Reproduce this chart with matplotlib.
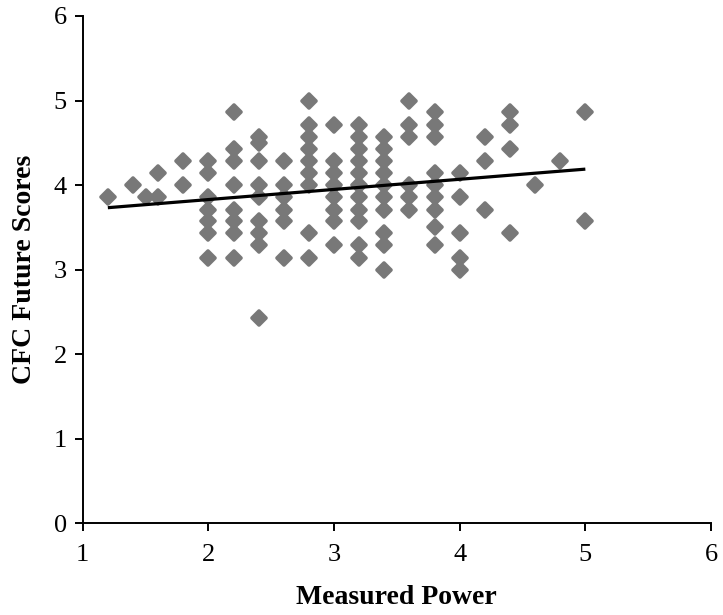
import matplotlib
matplotlib.use('Agg')
import matplotlib.pyplot as plt
from matplotlib.markers import MarkerStyle
import numpy as np

# measured power (x) and the CFC future scores seen in each column
power = [1.2, 1.4, 1.5, 1.6, 1.8, 2.0, 2.2, 2.4, 2.6, 2.8, 3.0,
         3.2, 3.4, 3.6, 3.8, 4.0, 4.2, 4.4, 4.6, 4.8, 5.0]
scores = [
    [3.86],
    [4.0],
    [3.86],
    [4.14, 3.86],
    [4.29, 4.0],
    [4.29, 4.14, 3.86, 3.71, 3.57, 3.43, 3.14],
    [4.86, 4.43, 4.29, 4.0, 3.71, 3.57, 3.43, 3.14],
    [4.57, 4.5, 4.29, 4.0, 3.86, 3.57, 3.43, 3.29, 2.43],
    [4.29, 4.0, 3.86, 3.71, 3.57, 3.14],
    [5.0, 4.71, 4.57, 4.43, 4.29, 4.14, 4.0, 3.43, 3.14],
    [4.71, 4.29, 4.14, 4.0, 3.86, 3.71, 3.57, 3.29],
    [4.71, 4.57, 4.43, 4.29, 4.14, 4.0, 3.86, 3.71, 3.57, 3.29, 3.14],
    [4.57, 4.43, 4.29, 4.14, 4.0, 3.86, 3.71, 3.43, 3.29, 3.0],
    [5.0, 4.71, 4.57, 4.0, 3.86, 3.71],
    [4.86, 4.71, 4.57, 4.14, 4.0, 3.86, 3.71, 3.5, 3.29],
    [4.14, 3.86, 3.43, 3.14, 3.0],
    [4.57, 4.29, 3.71],
    [4.86, 4.71, 4.43, 3.43],
    [4.0],
    [4.29],
    [4.86, 3.57],
]

# linear trend line
trend_slope = 0.12
trend_intercept = 3.589
trend_range = [1.2, 5.0]

xticks = [1, 2, 3, 4, 5, 6]
yticks = [0, 1, 2, 3, 4, 5, 6]

xs = []
ys = []
for p, col in zip(power, scores):
    for s in col:
        xs.append(p)
        ys.append(s)

plt.rcParams['font.family'] = ['Liberation Serif', 'DejaVu Serif']

fig = plt.figure(figsize=(7.23, 6.15), dpi=100)
ax = fig.add_axes([0.1144, 0.149, 0.869, 0.825])

# rounded diamonds, like the blurry excel markers
dmd = MarkerStyle('D', joinstyle='round')
ax.plot(xs, ys, linestyle='none', marker=dmd, markersize=6.8,
        color='#787878', markeredgecolor='#787878', markeredgewidth=2.6,
        zorder=2)

tx = np.array(trend_range)
ax.plot(tx, trend_intercept + trend_slope * tx, color='black', linewidth=2.3,
        solid_capstyle='butt', zorder=3)

ax.set_xlim(1, 6)
ax.set_ylim(0, 6)
ax.set_xticks(xticks)
ax.set_yticks(yticks)
ax.tick_params(axis='both', labelsize=19, length=5.5, width=1.4, direction='out',
               colors='black')
ax.tick_params(axis='x', pad=9)
ax.tick_params(axis='y', pad=6)

for side in ['top', 'right']:
    ax.spines[side].set_visible(False)
for side in ['left', 'bottom']:
    ax.spines[side].set_linewidth(1.4)
    ax.spines[side].set_color('black')

ax.set_xlabel('Measured Power', fontsize=20, fontweight='bold', labelpad=14)
ax.set_ylabel('CFC Future Scores', fontsize=20, fontweight='bold', labelpad=12)

plt.savefig('out.png', dpi=100)
